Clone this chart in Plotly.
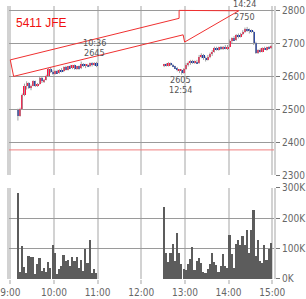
import plotly.graph_objects as go

# ---- data (minutes after 9:00, 3-minute bars) ----
am_t = list(range(9, 118, 3))
am_open  = [2498,2480,2500,2545,2570,2580,2565,2572,2585,2572,2578,2595,2585,2590,2600,2622,2612,2608,2615,2610,2620,2615,2628,2620,2630,2625,2633,2622,2630,2625,2638,2632,2635,2630,2640,2635,2642]
am_high  = [2502,2505,2548,2578,2585,2582,2575,2588,2587,2580,2598,2598,2592,2605,2625,2628,2618,2618,2620,2622,2625,2630,2632,2632,2635,2635,2636,2632,2633,2645,2640,2638,2638,2642,2643,2643,2644]
am_low   = [2466,2478,2498,2540,2560,2562,2558,2570,2568,2568,2575,2580,2580,2588,2598,2610,2605,2605,2608,2608,2612,2613,2618,2618,2622,2622,2620,2620,2620,2622,2628,2625,2628,2628,2630,2632,2628]
am_close = [2480,2500,2545,2570,2580,2565,2572,2585,2572,2578,2595,2585,2590,2600,2622,2612,2608,2615,2610,2620,2615,2628,2620,2630,2625,2633,2622,2630,2625,2638,2632,2635,2630,2640,2635,2642,2632]
am_vol   = [282,26,110,40,22,77,74,75,18,50,70,29,38,26,58,38,112,88,18,35,45,80,60,63,45,75,60,74,38,64,28,100,55,130,22,35,22]

pm_t = list(range(210, 358, 3))
pm_open  = [2632,2635,2632,2640,2635,2630,2625,2618,2620,2610,2622,2635,2640,2648,2642,2645,2640,2660,2665,2655,2650,2660,2668,2675,2685,2682,2688,2683,2690,2685,2690,2708,2715,2710,2725,2720,2728,2735,2745,2740,2738,2735,2700,2672,2680,2675,2685,2682,2688,2685]
pm_high  = [2638,2640,2643,2642,2638,2632,2628,2622,2622,2625,2640,2645,2650,2650,2648,2650,2665,2670,2668,2660,2665,2672,2680,2690,2690,2690,2692,2692,2695,2695,2712,2718,2722,2728,2730,2732,2740,2748,2750,2745,2742,2738,2705,2682,2685,2688,2690,2690,2692,2695]
pm_low   = [2628,2630,2630,2632,2628,2622,2615,2610,2605,2608,2620,2630,2635,2638,2638,2638,2638,2655,2650,2645,2648,2655,2662,2672,2678,2678,2680,2680,2682,2680,2688,2700,2708,2708,2715,2718,2725,2732,2735,2730,2732,2695,2668,2668,2672,2673,2680,2678,2682,2683]
pm_close = [2635,2632,2640,2635,2630,2625,2618,2620,2610,2622,2635,2640,2648,2642,2645,2640,2660,2665,2655,2650,2660,2668,2675,2685,2682,2688,2683,2690,2685,2690,2708,2715,2710,2725,2720,2728,2735,2745,2740,2738,2735,2700,2672,2680,2675,2685,2682,2688,2685,2692]
pm_vol   = [237,88,58,88,118,60,154,88,50,35,30,50,67,105,30,60,70,55,26,20,35,50,88,58,48,26,45,83,45,38,147,83,38,115,131,112,141,112,162,88,162,227,78,128,60,55,112,64,100,120]

prev_close = 2377
price_ticks = [2300, 2400, 2500, 2600, 2700, 2800]
vol_ticks = [0, 100, 200, 300]
vol_tick_text = ["0K", "100K", "200K", "300K"]
time_ticks = [0, 60, 120, 180, 240, 300, 360]
time_tick_text = ["9:00", "10:00", "11:00", "12:00", "13:00", "14:00", "15:00"]
title_text = "5411 JFE"
# label lines: (line1, line2, x, y1, y2, shift of line1 in px)
marks = [("10:36", "2645", 116, 2702, 2672, 0),
         ("14:24", "2750", 322, 2810, 2781, 3),
         ("2605", "12:54", 234, 2588, 2558, 0)]
arrow_pts = [(0, 2650), (232, 2776), (232, 2800), (314, 2799), (239.6, 2704), (237.5, 2726), (4.6, 2600)]

t = am_t + pm_t
o = am_open + pm_open
h = am_high + pm_high
l = am_low + pm_low
c = am_close + pm_close
v = [x * 1000 for x in am_vol + pm_vol]
xc = [ti + 1.5 for ti in t]

RED = "#ff1040"
BLUE = "#1838a8"

wx, wy = [], []
for xi, hi, lo in zip(xc, h, l):
    wx += [xi, xi, None]
    wy += [lo, hi, None]

base = [min(a, b) for a, b in zip(o, c)]
height = [max(abs(b - a), 3) for a, b in zip(o, c)]
cols = [RED if b >= a else BLUE for a, b in zip(o, c)]

fig = go.Figure()
fig.add_trace(go.Scatter(x=wx, y=wy, mode="lines", line=dict(color="#a0a0a0", width=1),
                         xaxis="x", yaxis="y", hoverinfo="skip", showlegend=False))
fig.add_trace(go.Bar(x=xc, y=height, base=base, width=3.0, marker=dict(color=cols, line=dict(width=0)),
                     xaxis="x", yaxis="y", showlegend=False))
fig.add_trace(go.Bar(x=xc, y=v, width=2.3, marker=dict(color="#5c5c5c", line=dict(width=0)),
                     xaxis="x2", yaxis="y2", showlegend=False))

FONT = "Liberation Sans Narrow, DejaVu Sans Condensed, Arial Narrow, sans-serif"
xr = [-1.74, 362.4]
common_x = dict(range=xr, tickvals=time_ticks, showgrid=True, gridcolor="#d2d2d2", gridwidth=2,
                zeroline=False, showline=False)
fig.update_layout(
    width=306, height=299, autosize=False,
    margin=dict(l=7, r=27, t=0, b=20, pad=0),
    paper_bgcolor="white", plot_bgcolor="white",
    bargap=0, showlegend=False,
    xaxis=dict(**common_x, anchor="y", showticklabels=False, ticks=""),
    xaxis2=dict(**common_x, anchor="y2", matches="x", ticktext=time_tick_text, ticks="outside",
                ticklen=4, tickwidth=2, tickcolor="#d2d2d2", ticklabeloverflow="allow",
                tickfont=dict(family=FONT, size=10, color="#666")),
    yaxis=dict(domain=[0.3799, 1], range=[2300, 2813.4], side="right", tickvals=price_ticks,
               ticktext=[str(p) for p in price_ticks], showgrid=True, gridcolor="#9a9a9a", gridwidth=1,
               zeroline=False, ticks="outside", ticklen=4, tickcolor="#777",
               showline=True, mirror=True, linecolor="#d2d2d2", linewidth=2,
               tickfont=dict(family=FONT, size=10, color="#666")),
    yaxis2=dict(domain=[0, 0.3351], range=[0, 300000], side="right", tickvals=[x * 1000 for x in vol_ticks],
                ticktext=vol_tick_text, showgrid=True, gridcolor="#9a9a9a", gridwidth=1,
                zeroline=False, ticks="outside", ticklen=4, tickcolor="#777",
                showline=True, mirror=True, linecolor="#d2d2d2", linewidth=2,
                tickfont=dict(family=FONT, size=10, color="#666")),
)

fig.add_shape(type="line", xref="paper", x0=0, x1=1, yref="y", y0=prev_close, y1=prev_close,
              line=dict(color="#f08080", width=1))

path = "M " + " L ".join(f"{px},{py}" for px, py in arrow_pts) + " Z"
fig.add_shape(type="path", xref="x", yref="y", path=path, line=dict(color="#f03030", width=1),
              fillcolor="rgba(0,0,0,0)")

fig.add_annotation(text=title_text, xref="paper", yref="paper", x=0.02, y=(299 - 17) / 279 - 20 / 279,
                   xanchor="left", yanchor="middle", showarrow=False,
                   font=dict(family="Liberation Sans, Arial, sans-serif", size=12, color="#f01010"))
for l1, l2, mx, y1, y2, sh in marks:
    for txt, yy, ys in ((l1, y1, sh), (l2, y2, 0)):
        fig.add_annotation(text=txt, x=mx, y=yy, xref="x", yref="y", showarrow=False,
                           xanchor="center", yanchor="middle", yshift=ys,
                           font=dict(family=FONT, size=9, color="#555"))

fig.write_html("out.html")
